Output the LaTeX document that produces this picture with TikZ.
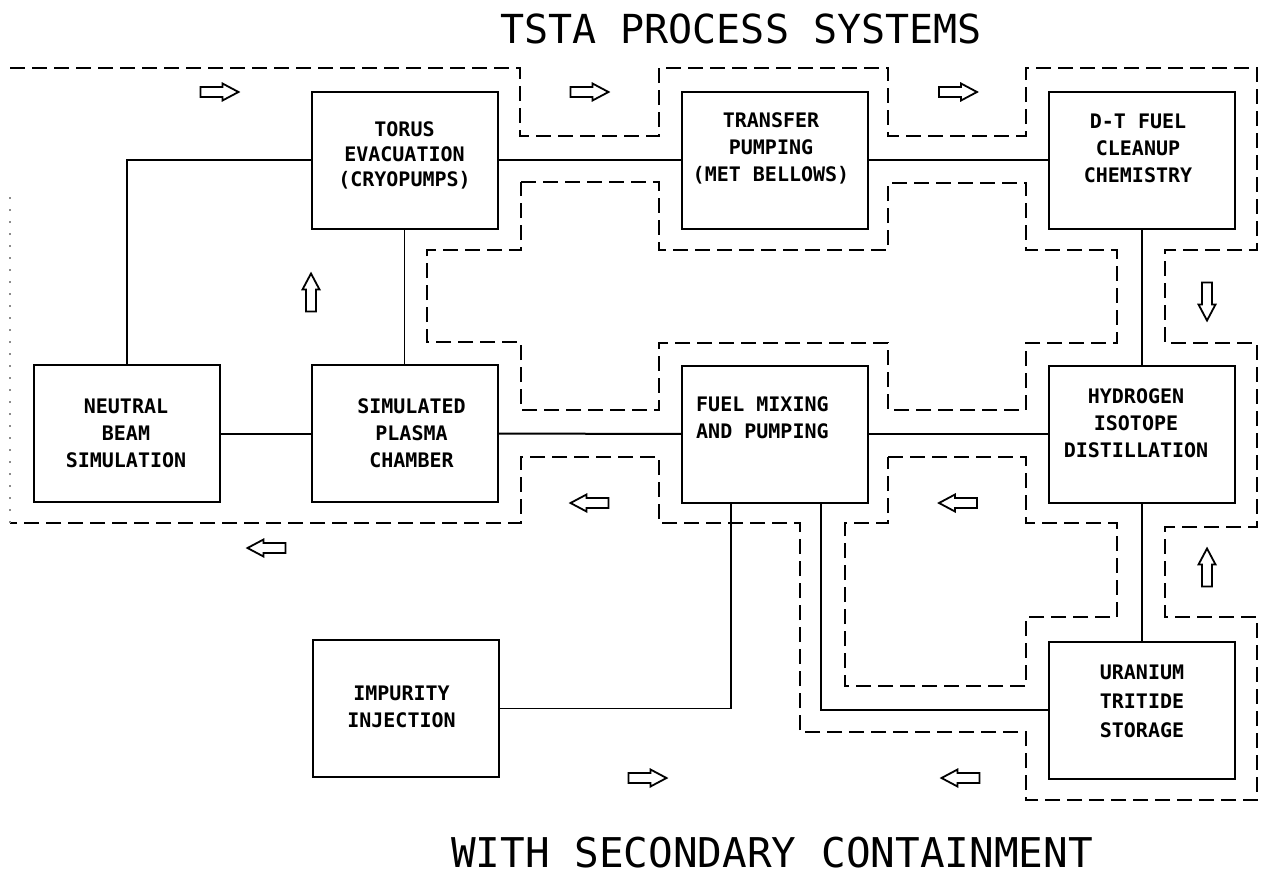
\documentclass[tikz,border=0pt]{standalone}
\usepackage{fontspec}
\setmonofont{DejaVu Sans Mono}
\begin{document}
\begin{tikzpicture}[x=1pt,y=-1pt,
  box/.style={draw, line width=2pt, minimum width=186pt, minimum height=137pt, inner sep=0pt},
  lbl/.style={font=\ttfamily\bfseries\fontsize{20}{27}\selectfont, align=center, inner sep=0pt},
  link/.style={line width=2pt},
  thinlink/.style={line width=1.3pt},
  pipe/.style={line width=2pt, dash pattern=on 15pt off 7pt},
  flowarrow/.pic={\draw[line width=1.8pt, line join=miter]
     (-19,-5) -- (3,-5) -- (3,-8.5) -- (19,0) -- (3,8.5) -- (3,5) -- (-19,5) -- cycle;},
  bigtext/.style={font=\ttfamily\fontsize{40}{40}\selectfont, inner sep=0pt}]
\useasboundingbox (0,0) rectangle (1263,878);

% titles
\node[bigtext] (title) at (741,29) {TSTA PROCESS SYSTEMS};
\node[bigtext, font=\ttfamily\fontsize{41}{41}\selectfont] (subtitle) at (772,853) {WITH SECONDARY CONTAINMENT};

% boxes
\node[box] (torus)    at (404.5,160) {};
\node[box] (transfer) at (775,160) {};
\node[box] (dt)       at (1142,160) {};
\node[box] (neutral)  at (127,433.5) {};
\node[box] (plasma)   at (404.5,433.5) {};
\node[box] (fuel)     at (775,434) {};
\node[box] (hydrogen) at (1142,434) {};
\node[box] (impurity) at (405.5,708.5) {};
\node[box] (uranium)  at (1142,710) {};

% labels
\node[lbl, font=\ttfamily\bfseries\fontsize{20}{25}\selectfont] (torus-t) at ([yshift=5pt]torus.center) {TORUS\\EVACUATION\\(CRYOPUMPS)};
\node[lbl] (transfer-t) at ([yshift=12pt,xshift=-4pt]transfer.center) {TRANSFER\\PUMPING\\(MET BELLOWS)};
\node[lbl] (dt-t) at ([yshift=12pt,xshift=-4pt]dt.center) {D-T FUEL\\CLEANUP\\CHEMISTRY};
\node[lbl] (neutral-t) at ([xshift=-1pt]neutral.center) {NEUTRAL\\BEAM\\SIMULATION};
\node[lbl] (plasma-t) at ([xshift=7pt]plasma.center) {SIMULATED\\PLASMA\\CHAMBER};
\node[lbl, align=left, anchor=north west] (fuel-t) at (696,396) {FUEL MIXING\\AND PUMPING};
\node[lbl] (hydrogen-t) at ([yshift=11pt,xshift=-6pt]hydrogen.center) {HYDROGEN\\ISOTOPE\\DISTILLATION};
\node[lbl] (impurity-t) at ([yshift=2pt,xshift=-4pt]impurity.center) {IMPURITY\\INJECTION};
\node[lbl, font=\ttfamily\bfseries\fontsize{20}{29}\selectfont] (uranium-t) at ([yshift=9pt]uranium.center) {URANIUM\\TRITIDE\\STORAGE};

% connectors
\draw[link] (torus.west) -| (neutral.north);
\draw[link] (torus) -- (transfer);
\draw[link] (transfer) -- (dt);
\draw[thinlink] (torus) -- (plasma);
\draw[link] (neutral) -- (plasma);
\draw[link] (plasma) -- (fuel);
\draw[link] (fuel) -- (hydrogen);
\draw[link] (dt) -- (hydrogen);
\draw[link] (hydrogen) -- (uranium);
\coordinate (fuel-imp) at ([xshift=-44pt]fuel.south);
\coordinate (fuel-ura) at ([xshift=46pt]fuel.south);
\draw[thinlink] (fuel-imp) |- (impurity.east);
\draw[link] (fuel-ura) |- (uranium.west);

% secondary containment (dashed)
\draw[pipe] (10,68) -- (520,68) -- (520,136) -- (659,136) -- (659,68) -- (888,68) -- (888,136)
  -- (1026,136) -- (1026,68) -- (1257,68) -- (1257,250) -- (1165,250) -- (1165,343)
  -- (1257,343) -- (1257,527) -- (1165,527) -- (1165,617) -- (1257,617) -- (1257,800)
  -- (1026,800) -- (1026,732) -- (800,732) -- (800,523) -- (659,523) -- (659,457)
  -- (521,457) -- (521,523) -- (10,523);
\draw[line width=1.3pt, black!45, dash pattern=on 2pt off 10pt] (10,523) -- (10,190);
\draw[pipe] (521,182) -- (659,182) -- (659,250) -- (888,250) -- (888,183) -- (1026,183)
  -- (1026,250) -- (1117,250) -- (1117,343) -- (1026,343) -- (1026,410) -- (888,410)
  -- (888,343) -- (659,343) -- (659,410) -- (521,410) -- (521,342) -- (427,342)
  -- (427,250) -- (521,250) -- cycle;
\draw[pipe] (888,457) -- (1026,457) -- (1026,523) -- (1117,523) -- (1117,617) -- (1026,617)
  -- (1026,686) -- (845,686) -- (845,523) -- (888,523) -- cycle;

% flow arrows
\pic (a1) at (219.5,92) {flowarrow};
\pic (a2) at (589.5,92) {flowarrow};
\pic (a3) at (958,92) {flowarrow};
\pic[rotate=-90] (a4) at (1207,301.5) {flowarrow};
\pic[rotate=90] (a5) at (1207,567.5) {flowarrow};
\pic[rotate=180] (a6) at (958,503) {flowarrow};
\pic[rotate=180] (a7) at (589.5,503) {flowarrow};
\pic[rotate=180] (a8) at (266.5,548) {flowarrow};
\pic[rotate=90] (a9) at (311,292.5) {flowarrow};
\pic (a10) at (647.5,778) {flowarrow};
\pic[rotate=180] (a11) at (960.5,778) {flowarrow};
\end{tikzpicture}
\end{document}
